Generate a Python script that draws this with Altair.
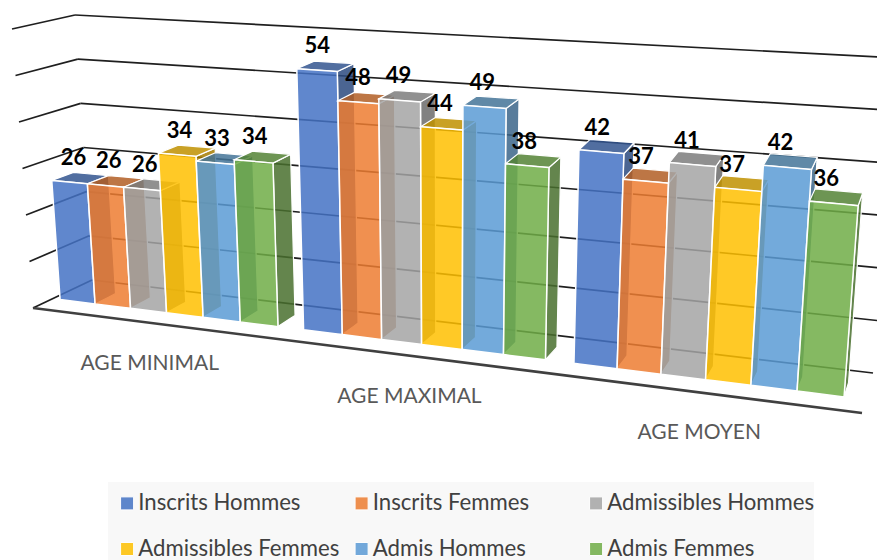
import numpy as np
import pandas as pd
import altair as alt

groups = ["AGE MINIMAL", "AGE MAXIMAL", "AGE MOYEN"]
series = ["Inscrits Hommes", "Inscrits Femmes", "Admissibles Hommes",
          "Admissibles Femmes", "Admis Hommes", "Admis Femmes"]
values = [[26, 26, 26, 34, 33, 34],
          [54, 48, 49, 44, 49, 38],
          [42, 37, 41, 37, 42, 36]]
front_colors = ["#4472C4", "#ED7D31", "#A5A5A5", "#FFC000", "#5B9BD5", "#70AD47"]
side_colors = ["#2C4A7F", "#9A5120", "#6B6B6B", "#A67D00", "#3B658A", "#49702E"]
top_colors = ["#33558F", "#B25E25", "#7C7C7C", "#BF9000", "#447498", "#548235"]
grid_levels = [0, 10, 20, 30, 40, 50, 60]

# perspective box: floor corners of the 3D chart, heights of the 0-60 span at them, vertical vanishing point
floor_box = [(33, 308), (862, 413), (873, 373), (92, 280)]
span = {"fl": 279.0, "fr": 322.0, "br": 315.0, "bl": 265.0}
VANISH = (446.0, 5800.0)
H_MAX = 60.0
GAP = 0.67
U_SHIFT = -0.12
V_FRONT, V_BACK = 0.32, 0.68


def homography(c):
    A, b = [], []
    for (u, v), (x, y) in zip([(0, 0), (1, 0), (1, 1), (0, 1)], c):
        A.append([u, v, 1, 0, 0, 0, -u * x, -v * x]); b.append(x)
        A.append([0, 0, 0, u, v, 1, -u * y, -v * y]); b.append(y)
    return np.append(np.linalg.solve(np.array(A, float), np.array(b, float)), 1).reshape(3, 3)


H0 = homography(floor_box)


def project(u, v, h):
    p = H0 @ [u, v, 1]
    xb, yb = p[:2] / p[2]
    s = ((1 - u) * (1 - v) * span["fl"] + u * (1 - v) * span["fr"]
         + u * v * span["br"] + (1 - u) * v * span["bl"])
    d = s * h / H_MAX
    return float(xb + (xb - VANISH[0]) / (VANISH[1] - yb) * d), float(yb - d)


TOTAL = 18 + 3 * GAP


def bar_u(g, s, t=0.0):
    return (GAP / 2 + U_SHIFT + g * (6 + GAP) + s + t) / TOTAL


def band(pts, **extra):
    xs = sorted({round(p[0], 2) for p in pts})
    rows = []
    n = len(pts)
    for x in xs:
        ys = []
        for i in range(n):
            (x0, y0), (x1, y1) = pts[i], pts[(i + 1) % n]
            lo, hi = min(x0, x1) - 0.006, max(x0, x1) + 0.006
            if lo <= x <= hi:
                if abs(x1 - x0) < 1e-6:
                    ys += [y0, y1]
                else:
                    t = min(1, max(0, (x - x0) / (x1 - x0)))
                    ys.append(y0 + t * (y1 - y0))
        rows.append({"x": x, "y": min(ys), "y2": max(ys), **extra})
    return rows


xs = alt.Scale(domain=[8, 877], nice=False, zero=False)
ys = alt.Scale(domain=[560, 8], nice=False, zero=False)
X = alt.X("x:Q", scale=xs, axis=None)
Y = alt.Y("y:Q", scale=ys, axis=None)

# gridlines on the walls and floor edge
grid_rows = []
for h in grid_levels:
    for name, pts in (("l", [(0, 0), (0, 1)]), ("b", [(0, 1), (1, 1)])):
        for i, (u, v) in enumerate(pts):
            x, y = project(u, v, h)
            grid_rows.append({"x": x, "y": y, "id": f"{name}{h}", "i": i})
grid = alt.Chart(pd.DataFrame(grid_rows)).mark_line(color="#1f1f1f", strokeWidth=1.7, clip=True).encode(
    x=X, y=Y, detail="id:N", order="i:Q")

edge_rows = [dict(zip(("x", "y"), project(u, 0, 0))) for u in (0, 1)]
edge = alt.Chart(pd.DataFrame(edge_rows)).mark_line(color="#404040", strokeWidth=2.6).encode(x=X, y=Y)

panel = alt.Chart(pd.DataFrame({"x": [108, 814], "y": [482, 482], "y2": [560, 560]})).mark_area(
    color="#F8F8F8", clip=True).encode(x=X, y=Y, y2="y2:Q")

legend = alt.Legend(orient="none", legendX=108, legendY=484, columns=3, gridAlign="all", direction="horizontal",
                    padding=0, symbolType="square", symbolSize=170, symbolOpacity=0.85,
                    symbolStrokeWidth=1, symbolOffset=0, labelFont="Lato", labelFontSize=22.2,
                    labelColor="#404040", labelLimit=300, labelOffset=0, rowPadding=23,
                    columnPadding=4.5, title=None, clipHeight=22)

layers = [panel, grid]
label_rows = []
for g in range(3):
    for s in range(6):
        val = values[g][s]
        u0, u1 = bar_u(g, s), bar_u(g, s, 1)
        f = project
        side = [f(u1, V_FRONT, 0), f(u1, V_BACK, 0), f(u1, V_BACK, val), f(u1, V_FRONT, val)]
        top = [f(u0, V_FRONT, val), f(u1, V_FRONT, val), f(u1, V_BACK, val), f(u0, V_BACK, val)]
        front = [f(u0, V_FRONT, 0), f(u1, V_FRONT, 0), f(u1, V_FRONT, val), f(u0, V_FRONT, val)]
        back_rows = band(side, poly="side", fill=side_colors[s]) + band(top, poly="top", fill=top_colors[s])
        layers.append(alt.Chart(pd.DataFrame(back_rows)).mark_area(
            stroke="white", strokeWidth=1.2, fillOpacity=0.85).encode(
            x=X, y=Y, y2="y2:Q", detail="poly:N", fill=alt.Fill("fill:N", scale=None)))
        layers.append(alt.Chart(pd.DataFrame(band(front, series=series[s]))).mark_area(
            stroke="white", strokeWidth=1.5, fillOpacity=0.85).encode(
            x=X, y=Y, y2="y2:Q",
            color=alt.Color("series:N", scale=alt.Scale(domain=series, range=front_colors), legend=legend)))
        lx, ly = project((u0 + u1) / 2, V_FRONT, val)
        label_rows.append({"x": lx + 2 + (200 - lx) * 0.015, "y": ly - 24, "t": str(val)})

labels = alt.Chart(pd.DataFrame(label_rows)).mark_text(
    font="Lato", fontSize=22, fontWeight="bold", color="#000000").encode(x=X, y=Y, text="t:N")

cat_rows = []
for g, name in enumerate(groups):
    x, y = project(bar_u(g, 3), 0, 0)
    cat_rows.append({"x": x + 1, "y": y + 41, "t": name})
cats = alt.Chart(pd.DataFrame(cat_rows)).mark_text(
    font="Lato", fontSize=21, color="#595959").encode(x=X, y=Y, text="t:N")

chart = alt.layer(*layers, edge, labels, cats).properties(
    width=869, height=552, padding=0, autosize=alt.AutoSizeParams(type="none")
).configure_view(stroke=None)

chart.save("out.html", embed_options={"renderer": "svg", "actions": False})
